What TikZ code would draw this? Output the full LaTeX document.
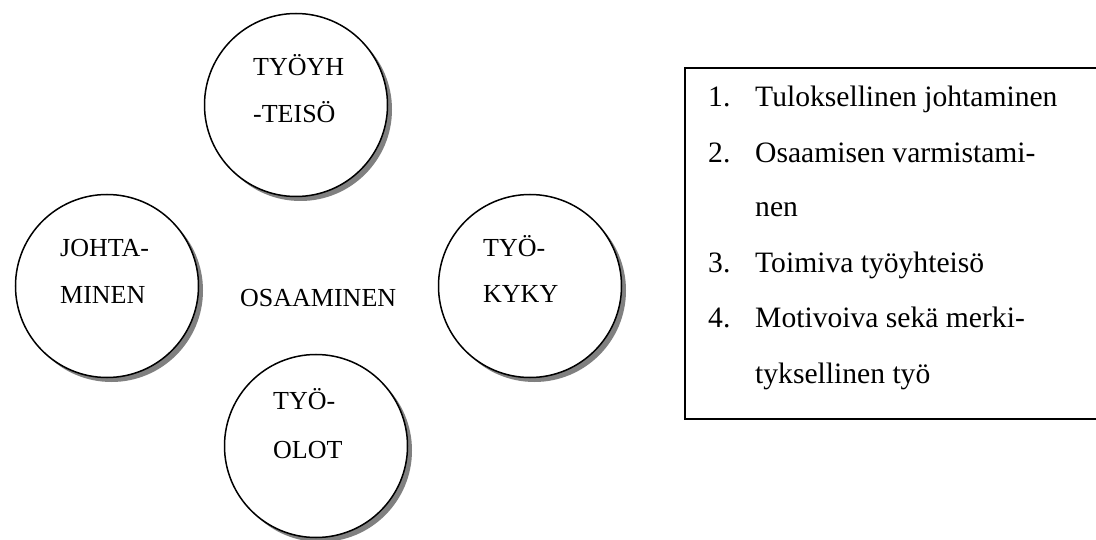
\documentclass[tikz,border=0pt]{standalone}
\usepackage{fontspec}
\setmainfont{Liberation Serif}
\usetikzlibrary{shadows}
\begin{document}
\begin{tikzpicture}[x=1pt,y=-1pt,
  bubble/.style={circle, draw=black, line width=1.5pt, fill=white, minimum size=183pt, inner sep=0pt,
    drop shadow={shadow xshift=4.5pt, shadow yshift=-4.5pt, fill=black!50, opacity=1}},
  ctext/.style={anchor=base west, inner sep=0pt, font=\fontsize{26}{30}\selectfont},
  ltext/.style={anchor=base west, inner sep=0pt, font=\fontsize{29.6}{36}\selectfont}]
\useasboundingbox (0,0) rectangle (1096,540);
\clip (0,0) rectangle (1096,540);
% circles
\node[bubble] (top) at (296,105) {};
\node[bubble] (left) at (107,286) {};
\node[bubble] (right) at (530,286) {};
\node[bubble] (bottom) at (316,446) {};
% circle texts
\node[ctext] (t1) at (253,76) {TYÖYH};
\node[ctext] (t2) at (253,123) {-TEISÖ};
\node[ctext] (l1) at (60,257) {JOHTA-};
\node[ctext] (l2) at (60,304) {MINEN};
\node[ctext] (r1) at (483,257) {TYÖ-};
\node[ctext] (r2) at (483,303) {KYKY};
\node[ctext] (b1) at (273,409) {TYÖ-};
\node[ctext] (b2) at (273,458) {OLOT};
\node[ctext] (center) at (240,307) {OSAAMINEN};
% list box
\draw[line width=1.5pt] (1100,68) -- (685,68) -- (685,419) -- (1100,419);
\node[ltext] (n1) at (708,107) {1.};
\node[ltext] (i1) at (755,107) {Tuloksellinen johtaminen};
\node[ltext] (n2) at (708,163) {2.};
\node[ltext] (i2) at (755,163) {Osaamisen varmistami-};
\node[ltext] (i2b) at (755,217) {nen};
\node[ltext] (n3) at (708,273) {3.};
\node[ltext] (i3) at (755,273) {Toimiva työyhteisö};
\node[ltext] (n4) at (708,327) {4.};
\node[ltext] (i4) at (755,327) {Motivoiva sekä merki-};
\node[ltext] (i4b) at (755,383) {tyksellinen työ};
\end{tikzpicture}
\end{document}
